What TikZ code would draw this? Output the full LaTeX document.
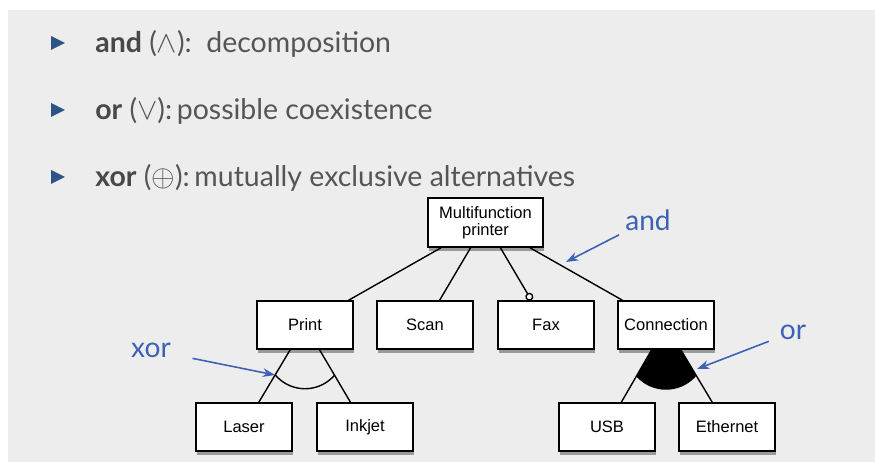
\documentclass[tikz,border=0pt]{standalone}
\usepackage{fontspec}
\setmainfont{Lato}
\newfontfamily\caixafont{Liberation Sans}
\usetikzlibrary{arrows.meta,shadows}
\definecolor{fundo}{HTML}{EDEDED}
\definecolor{azul}{HTML}{3D62B5}
\definecolor{marcador}{HTML}{2E5487}
\definecolor{texto}{HTML}{555555}
\definecolor{negrito}{HTML}{484848}
\pgfdeclarelayer{papel}
\pgfdeclarelayer{linhas}
\pgfsetlayers{papel,linhas,main}
\begin{document}
\begin{tikzpicture}[x=0.02cm,y=-0.02cm]
\tikzstyle{caixa}=[draw=black, line width=0.85pt, fill=white, minimum width=1.92cm, minimum height=0.96cm, inner sep=0, align=center, font=\caixafont\fontsize{9.4}{9.8}\selectfont, drop shadow={shadow xshift=0.5pt, shadow yshift=-2pt, opacity=0.35, fill=black}]
\tikzstyle{liga}=[line width=0.8pt]
\tikzstyle{seta}=[azul, line width=0.9pt, -{Stealth[length=7pt,width=5pt]}]
\tikzstyle{rotulo}=[text=azul, font=\fontsize{16}{18}\selectfont]
\tikzstyle{item}=[anchor=base west, inner sep=0, text=texto, font=\fontsize{16.2}{19}\selectfont]
\useasboundingbox (0,0) rectangle (875,462);
\begin{pgfonlayer}{papel}
\fill[white] (0,0) rectangle (875,462);
\fill[fundo] (8,10) rectangle (875,462);
\end{pgfonlayer}
% marcadores e texto
\foreach \y/\b/\t [count=\i] in {43/and/{($\wedge$):~~decomposition}, 110/or/{($\vee$):\,possible coexistence}, 177/xor/{($\oplus$):\,mutually exclusive alternatives}}{
\fill[marcador] (51,\y-7) -- (65,\y) -- (51,\y+7) -- cycle;
\node[item] (item\i) at (95,\y+10) {\textbf{\color{negrito}\b} \t};
}
% caixas
\node[caixa, minimum width=2.3cm, minimum height=0.98cm] (impressora) at (485.5,222.5) {Multifunction\\printer};
\foreach \n/\x/\t in {print/305/Print, scan/425/Scan, fax/546/Fax, connection/666/Connection}
\node[caixa] (\n) at (\x,325) {\t};
\foreach \n/\x/\t in {laser/244/Laser, inkjet/365/Inkjet, usb/607/USB, ethernet/727/Ethernet}
\node[caixa] (\n) at (\x,427) {\t};
% ligacoes
\begin{pgfonlayer}{linhas}
\foreach \n in {print, scan, connection}
\draw[liga] (impressora) -- (\n);
\draw[liga, -{Circle[open, length=4.6pt, fill=white]}] (impressora) -- (fax);
\foreach \n in {laser, inkjet}
\draw[liga] (print) -- (\n);
\foreach \n in {usb, ethernet}
\draw[liga] (connection) -- (\n);
% xor: arco
\begin{scope}
\clip (print.center) -- (laser.center) -- (inkjet.center) -- cycle;
\draw[liga] (print.south) circle[radius=0.78cm];
\end{scope}
% or: setor cheio
\begin{scope}
\clip (connection.center) -- (usb.center) -- (ethernet.center) -- cycle;
\fill (connection.south) circle[radius=0.8cm];
\end{scope}
\end{pgfonlayer}
% rotulos
\node[rotulo] (androt) at (648,220) {and};
\node[rotulo] (xorrot) at (151,350) {xor};
\node[rotulo] (orrot) at (793,332) {or};
\coordinate (andponta) at (566,262);
\coordinate (xorponta) at (275,375);
\coordinate (orponta) at (697,369);
\draw[seta] (androt) -- (andponta);
\draw[seta, shorten <=9pt] (xorrot) -- (xorponta);
\draw[seta, shorten <=3pt] (orrot) -- (orponta);
\end{tikzpicture}
\end{document}
